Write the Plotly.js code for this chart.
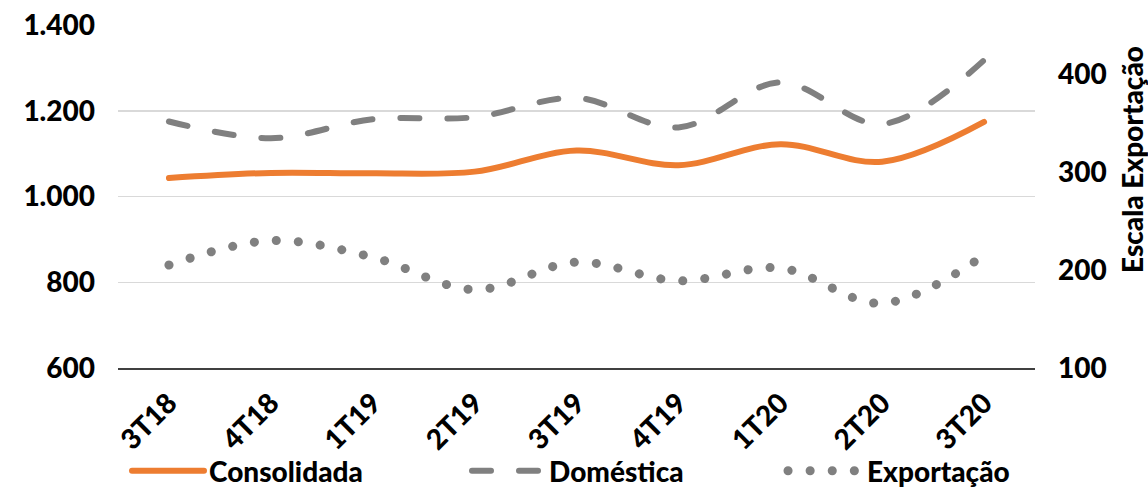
<!DOCTYPE html>
<html>
<head>
<meta charset="utf-8">
<script src="https://cdn.plot.ly/plotly-3.0.1.min.js"></script>
<style>
html,body{margin:0;padding:0;background:#fff;}
#chart{width:1148px;height:489px;}
.js-line{stroke-linecap:round !important;}
</style>
</head>
<body>
<div id="chart"></div>
<script>
const categories = ['3T18','4T18','1T19','2T19','3T19','4T19','1T20','2T20','3T20'];
const consolidada = [1043, 1055, 1054, 1058, 1107, 1073, 1122, 1081, 1174];
const domestica = [1175, 1136, 1180, 1185, 1230, 1161, 1266, 1169, 1318];
const exportacao = [205, 230, 213, 180, 208, 189, 202, 166, 215];
const leftTicks = [600, 800, 1000, 1200, 1400];
const rightTicks = [100, 200, 300, 400];

const FONT = 'Lato, "Open Sans", sans-serif';
const FS = 28;
const W = 1148, H = 489;

const traces = [
  {x: categories, y: consolidada, name: 'Consolidada', type: 'scatter', mode: 'lines',
   line: {color: '#ED7D31', width: 6, shape: 'spline', smoothing: 1}, yaxis: 'y', legend: 'legend'},
  {x: categories, y: domestica, name: 'Doméstica', type: 'scatter', mode: 'lines',
   line: {color: '#808080', width: 6, shape: 'spline', smoothing: 1, dash: '19px,28px'}, yaxis: 'y', legend: 'legend2'},
  {x: categories, y: exportacao, name: 'Exportação', type: 'scatter', mode: 'lines',
   line: {color: '#808080', width: 9, shape: 'spline', smoothing: 1, dash: '0.1px,22px'}, yaxis: 'y2', legend: 'legend3'}
];

const tf = {family: FONT, size: FS, color: '#000', weight: 900};

const legendCommon = (xpx, iw) => ({
  orientation: 'h', xref: 'container', yref: 'container',
  x: xpx / W, xanchor: 'left', y: 1 - 471 / H, yanchor: 'middle',
  font: tf, itemwidth: iw, bgcolor: 'rgba(0,0,0,0)', borderwidth: 0
});

const layout = {
  width: W, height: H,
  margin: {l: 118, r: 113, t: 25, b: 121},
  paper_bgcolor: '#fff', plot_bgcolor: '#fff',
  separators: ',.',
  font: tf,
  showlegend: true,
  xaxis: {
    type: 'category', range: [-0.5, 8.5], tickangle: -45,
    showline: true, linecolor: '#404040', linewidth: 1.5,
    showgrid: false, ticks: '', ticklabelstandoff: 6,
    tickfont: tf
  },
  yaxis: {
    range: [600, 1400], tickvals: leftTicks, tickformat: ',d',
    showgrid: true, gridcolor: '#d9d9d9', gridwidth: 1.5,
    zeroline: false, showline: false, ticks: '', ticklabelstandoff: 22,
    tickfont: tf
  },
  yaxis2: {
    overlaying: 'y', side: 'right', range: [100, 450], tickvals: rightTicks,
    showgrid: false, zeroline: false, showline: false, ticks: '', ticklabelstandoff: 22,
    tickfont: tf
  },
  legend: legendCommon(127, 72),
  legend2: legendCommon(467, 72),
  legend3: legendCommon(783, 74),
  annotations: [{
    text: 'Escala Exportação', textangle: -90,
    xref: 'paper', yref: 'paper',
    x: (1132 - 118) / 917, y: (368 - 160) / 343,
    xanchor: 'center', yanchor: 'middle', showarrow: false,
    font: {family: FONT, size: 28, color: '#000', weight: 900}
  }]
};

Plotly.newPlot('chart', traces, layout, {displayModeBar: false, staticPlot: true});
</script>
</body>
</html>
